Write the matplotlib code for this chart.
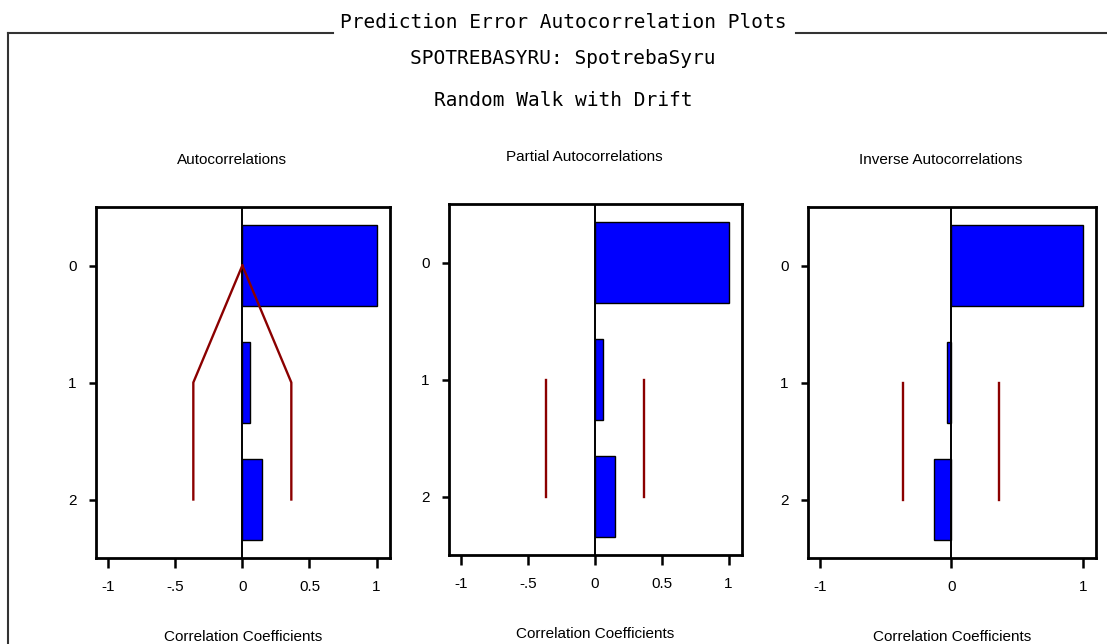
import numpy as np
import matplotlib
matplotlib.use('Agg')
import matplotlib.pyplot as plt
from matplotlib import font_manager
from matplotlib.lines import Line2D

installed = set(f.name for f in font_manager.fontManager.ttflist)
narrow = 'Liberation Sans Narrow' if 'Liberation Sans Narrow' in installed else 'Liberation Sans'
mono = 'DejaVu Sans Mono'

plt.rcParams['font.family'] = [narrow, 'DejaVu Sans']
plt.rcParams['font.size'] = 11

# data
lags = [0, 1, 2]
acf = [1.0, 0.06, 0.15]
pacf = [1.0, 0.06, 0.15]
iacf = [1.0, -0.03, -0.13]
acf_lim = [0.0, 0.365, 0.365]         # two std err band for lags 0..2
pacf_lim = [0.365, 0.365]             # lags 1..2
iacf_lim = [0.365, 0.365]
lim_lags = [1, 2]

ticks_full = [-1, -0.5, 0, 0.5, 1]
ticklabels_full = ['-1', '-.5', '0', '0.5', '1']
ticks_short = [-1, 0, 1]
ticklabels_short = ['-1', '0', '1']

title = 'Prediction Error Autocorrelation Plots'
subtitle1 = 'SPOTREBASYRU: SpotrebaSyru'
subtitle2 = 'Random Walk with Drift'
panel_titles = ['Autocorrelations', 'Partial Autocorrelations', 'Inverse Autocorrelations']
xlab = 'Correlation Coefficients'

W, H = 1107, 644
fig = plt.figure(figsize=(W / 100, H / 100), dpi=100)

def px_axes(left, top, right, bottom):
    return fig.add_axes([left / W, 1 - bottom / H, (right - left) / W, (bottom - top) / H])

ax1 = px_axes(96, 207, 390, 558)
ax2 = px_axes(449, 204, 742, 555)
ax3 = px_axes(808, 207, 1096, 558)

red = '#8b0000'
blue = '#0000ff'

panels = [
    (ax1, acf, ticks_full, ticklabels_full, panel_titles[0]),
    (ax2, pacf, ticks_full, ticklabels_full, panel_titles[1]),
    (ax3, iacf, ticks_short, ticklabels_short, panel_titles[2]),
]

for ax, vals, tk, tl, ttl in panels:
    ax.barh(lags, vals, height=0.7, left=0, color=blue, edgecolor='black', linewidth=1, zorder=2)
    ax.axvline(0, color='black', linewidth=1.4, zorder=3)
    ax.set_xlim(-1.09, 1.1)
    ax.set_ylim(2.5, -0.5)
    ax.set_xticks(tk)
    ax.set_xticklabels(tl)
    ax.set_yticks(lags)
    ax.set_yticklabels([str(l) for l in lags])
    ax.tick_params(axis='x', length=7.5, width=1.8, pad=8)
    ax.tick_params(axis='y', length=5, width=1.8, pad=9)
    for s in ax.spines.values():
        s.set_linewidth(2.0)
    ax.text(0.462, 1 + 47 / 351, ttl, transform=ax.transAxes, ha='center', va='center', fontsize=11)
    ax.set_xlabel(xlab, fontsize=11)
    ax.xaxis.set_label_coords(0.5, -0.205)

# confidence limits
ax1.plot(acf_lim, lags, color=red, linewidth=1.7, zorder=4)
ax1.plot([-v for v in acf_lim], lags, color=red, linewidth=1.7, zorder=4)
for ax, lim in [(ax2, pacf_lim), (ax3, iacf_lim)]:
    ax.plot(lim, lim_lags, color=red, linewidth=1.7, zorder=4)
    ax.plot([-v for v in lim], lim_lags, color=red, linewidth=1.7, zorder=4)

# titles and outer frame
fig.text(563 / W, 1 - 22 / H, title, family=mono, fontsize=14, ha='center', va='center')
fig.text(563 / W, 1 - 58 / H, subtitle1, family=mono, fontsize=14, ha='center', va='center')
fig.text(563 / W, 1 - 100 / H, subtitle2, family=mono, fontsize=14, ha='center', va='center')

yl = 1 - 33 / H
fig.add_artist(Line2D([8 / W, 333 / W], [yl, yl], transform=fig.transFigure, color='#333333', linewidth=1.5))
fig.add_artist(Line2D([796 / W, 1.0], [yl, yl], transform=fig.transFigure, color='#333333', linewidth=1.5))
fig.add_artist(Line2D([8 / W, 8 / W], [yl, 0], transform=fig.transFigure, color='#333333', linewidth=1.5))

fig.savefig('out.png', dpi=100)
